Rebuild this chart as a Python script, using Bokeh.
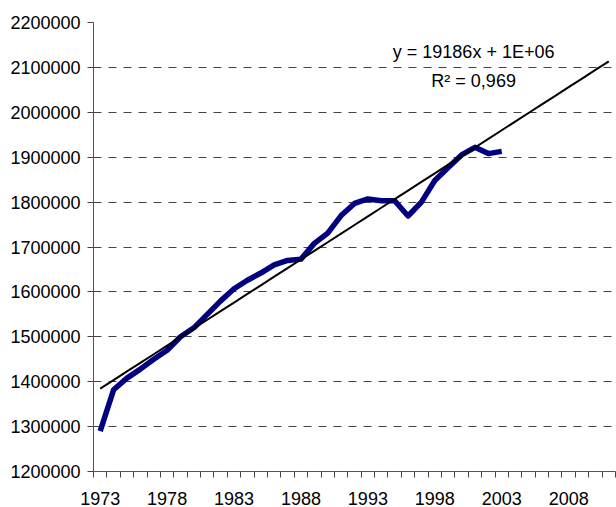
from bokeh.plotting import figure
from bokeh.models import FixedTicker, Range1d, Label
from bokeh.embed import file_html
from bokeh.resources import INLINE

years = list(range(1973, 2004))
values = [1290000, 1382000, 1408000, 1428000, 1450000, 1470000, 1500000, 1520000,
          1550000, 1580000, 1607000, 1626000, 1642000, 1660000, 1670000, 1673000,
          1708000, 1731000, 1770000, 1797000, 1807000, 1803000, 1803000, 1769000,
          1800000, 1848000, 1877000, 1905000, 1922000, 1908000, 1913000]

trend_years = list(range(1973, 2012))
slope = 19186
intercept = 1365258
trend_values = [intercept + slope * (i + 1) for i in range(len(trend_years))]

x_labels = [1973, 1978, 1983, 1988, 1993, 1998, 2003, 2008]
y_ticks = list(range(1200000, 2200001, 100000))
eq_text = "y = 19186x + 1E+06"
r2_text = "R² = 0,969"

FONT = "Liberation Sans"

p = figure(width=616, height=507, output_backend="svg", toolbar_location=None,
           x_range=Range1d(1972.5, 2011.5), y_range=Range1d(1200000, 2200000),
           min_border_left=93, min_border_right=1, min_border_top=22, min_border_bottom=35)
p.outline_line_color = None
p.xgrid.grid_line_color = None
p.ygrid.grid_line_color = "#444444"
p.ygrid.grid_line_dash = "8 7"
p.ygrid.grid_line_width = 1

xt = FixedTicker(ticks=x_labels, minor_ticks=[y + 0.5 for y in range(1972, 2012)])
p.xaxis.ticker = xt
p.xaxis.major_tick_line_color = None
p.xaxis.major_tick_out = 6
p.xaxis.major_tick_in = 0
p.xaxis.minor_tick_out = 6
p.xaxis.minor_tick_in = 0
p.xaxis.minor_tick_line_color = "#444444"
p.xaxis.major_label_standoff = 14
p.xaxis.major_label_text_font = FONT
p.xaxis.major_label_text_font_size = "18px"
p.xaxis.major_label_text_color = "#000000"
p.xaxis.axis_line_color = "#555555"

p.yaxis.ticker = FixedTicker(ticks=y_ticks)
p.yaxis.formatter.use_scientific = False
p.yaxis.major_tick_out = 6
p.yaxis.major_tick_in = 0
p.yaxis.minor_tick_line_color = None
p.yaxis.major_tick_line_color = "#444444"
p.yaxis.major_label_standoff = 7
p.yaxis.major_label_text_font = FONT
p.yaxis.major_label_text_font_size = "18px"
p.yaxis.major_label_text_color = "#000000"
p.yaxis.axis_line_color = "#555555"

p.line(years, values, line_color="#000080", line_width=5.5, line_join="round")
p.line(trend_years, trend_values, line_color="#000000", line_width=2)

p.add_layout(Label(x=2000.9, y=2111000, text=eq_text, text_align="center",
                   text_baseline="bottom", text_font=FONT, text_font_size="18px",
                   text_color="#000000"))
p.add_layout(Label(x=2000.9, y=2047000, text=r2_text, text_align="center",
                   text_baseline="bottom", text_font=FONT, text_font_size="18px",
                   text_color="#000000"))

open("out.html", "w").write(file_html(p, INLINE))
